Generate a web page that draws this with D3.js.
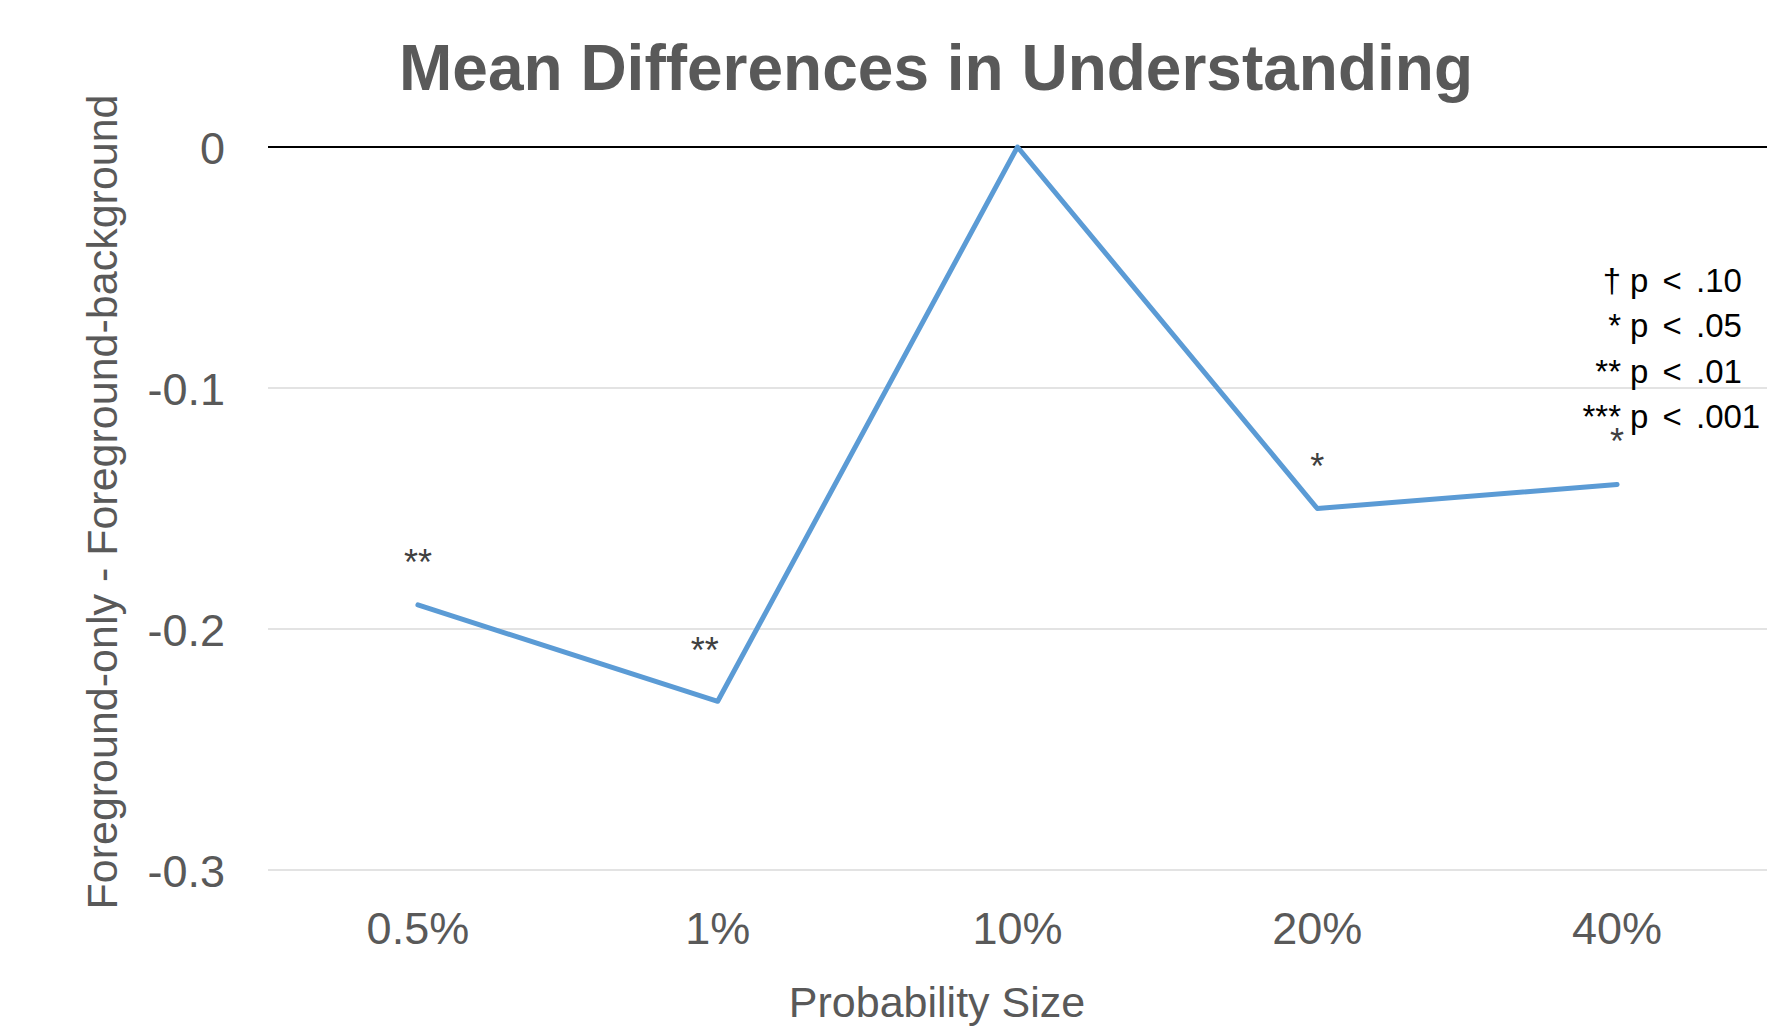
<!DOCTYPE html>
<html>
<head>
<meta charset="utf-8">
<script src="https://cdn.jsdelivr.net/npm/d3@7"></script>
<style>
  html, body { margin: 0; padding: 0; background: #fff; }
  svg { display: block; font-family: "Liberation Sans", Arial, sans-serif; }
</style>
</head>
<body>
<svg id="chart" width="1788" height="1026"></svg>
<script>
// Probability sizes and mean differences (foreground-only minus foreground-background)
const categories = ["0.5%", "1%", "10%", "20%", "40%"];
const meanDiff = [-0.19, -0.23, 0, -0.15, -0.14];
const significance = ["**", "**", "", "*", "*"];
const yTicks = [0, -0.1, -0.2, -0.3];
const legendPrefix = ["\u2020", "*", "**", "***"];
const legendText = ["p < .10", "p < .05", "p < .01", "p < .001"];

const svg = d3.select("#chart");
const plot = { left: 268, right: 1767, top: 147, bottom: 870 };

const x = d3.scaleBand().domain(categories).range([plot.left, plot.right]);
const y = d3.scaleLinear().domain([-0.3, 0]).range([plot.bottom, plot.top]);
const cx = d => x(d) + x.bandwidth() / 2;

// Title
svg.append("text")
  .attr("x", 936).attr("y", 90)
  .attr("text-anchor", "middle")
  .attr("font-size", 64).attr("font-weight", "bold")
  .attr("fill", "#595959")
  .text("Mean Differences in Understanding");

// Horizontal gridlines
svg.append("g").selectAll("line")
  .data(yTicks.filter(t => t !== 0))
  .join("line")
  .attr("x1", plot.left).attr("x2", plot.right)
  .attr("y1", d => y(d)).attr("y2", d => y(d))
  .attr("stroke", "#e3e3e3").attr("stroke-width", 2);

// Zero baseline
svg.append("line")
  .attr("x1", plot.left).attr("x2", plot.right)
  .attr("y1", y(0)).attr("y2", y(0))
  .attr("stroke", "#000").attr("stroke-width", 2);

// Y axis labels
const yAxis = d3.axisLeft(y).tickValues(yTicks).tickSize(0).tickPadding(0)
  .tickFormat(d => d === 0 ? "0" : d3.format(".1f")(d).replace("\u2212", "-"));
const gy = svg.append("g").attr("transform", `translate(225,0)`).call(yAxis);
gy.select(".domain").remove();
gy.selectAll("text").attr("font-size", 45).attr("fill", "#595959")
  .attr("font-family", "Liberation Sans, Arial, sans-serif").attr("dy", "0.36em");

// X axis labels
const xAxis = d3.axisBottom(x).tickSize(0).tickPadding(0);
const gx = svg.append("g").attr("transform", `translate(0,944)`).call(xAxis);
gx.select(".domain").remove();
gx.selectAll("text").attr("font-size", 45).attr("fill", "#595959")
  .attr("font-family", "Liberation Sans, Arial, sans-serif").attr("dy", 0);

// Axis titles
svg.append("text")
  .attr("x", 937).attr("y", 1017)
  .attr("text-anchor", "middle")
  .attr("font-size", 43).attr("fill", "#595959")
  .text("Probability Size");

svg.append("text")
  .attr("transform", "translate(117,502) rotate(-90)")
  .attr("text-anchor", "middle")
  .attr("font-size", 43).attr("fill", "#595959")
  .text("Foreground-only - Foreground-background");

// Data line
const line = d3.line().x((d, i) => cx(categories[i])).y(d => y(d));
svg.append("path")
  .datum(meanDiff)
  .attr("d", line)
  .attr("fill", "none")
  .attr("stroke", "#5b9bd5").attr("stroke-width", 5)
  .attr("stroke-linecap", "round").attr("stroke-linejoin", "round");

// Significance markers above each point
svg.append("g").selectAll("text")
  .data(meanDiff)
  .join("text")
  .attr("x", (d, i) => cx(categories[i]) - (i === 1 ? 13 : 0))
  .attr("y", (d, i) => y(d) - (i === 1 ? 38 : 30))
  .attr("text-anchor", "middle")
  .attr("font-size", 36).attr("fill", "#404040")
  .text((d, i) => significance[i]);

// Significance legend
const legend = svg.append("g");
legendText.forEach((t, i) => {
  const by = 292 + i * 45.3;
  legend.append("text").attr("x", 1621).attr("y", by)
    .attr("text-anchor", "end").attr("font-size", 33).attr("fill", "#000")
    .text(legendPrefix[i]);
  legend.append("text").attr("x", 1630).attr("y", by)
    .attr("text-anchor", "start").attr("font-size", 33).attr("fill", "#000")
    .attr("word-spacing", 5)
    .text(t);
});
</script>
</body>
</html>
